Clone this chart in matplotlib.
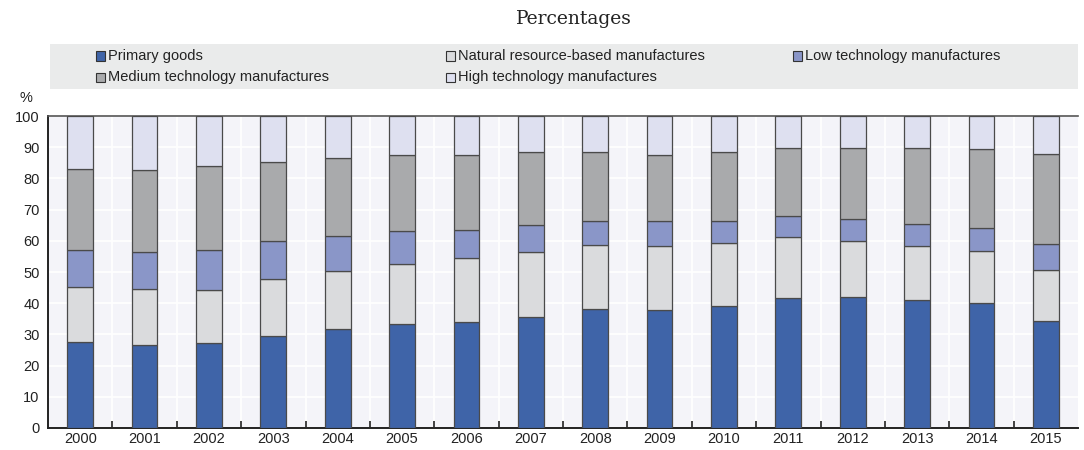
import numpy as np
import matplotlib.pyplot as plt
from matplotlib.patches import Rectangle

years = ['2000', '2001', '2002', '2003', '2004', '2005', '2006', '2007',
         '2008', '2009', '2010', '2011', '2012', '2013', '2014', '2015']

primary = [27.7, 26.7, 27.1, 29.5, 31.6, 33.3, 33.9, 35.5, 38.1, 37.8, 39.0, 41.6, 41.9, 40.9, 40.1, 34.3]
natural = [17.4, 17.8, 17.1, 18.2, 18.6, 19.3, 20.7, 21.0, 20.5, 20.7, 20.2, 19.6, 18.2, 17.6, 16.8, 16.3]
low_tech = [11.9, 12.0, 12.9, 12.1, 11.2, 10.5, 9.0, 8.6, 7.9, 7.9, 7.2, 6.8, 6.9, 6.9, 7.3, 8.4]
medium_tech = [26.0, 26.3, 26.9, 25.5, 25.2, 24.4, 24.0, 23.4, 22.1, 21.2, 22.0, 21.9, 22.8, 24.5, 25.4, 29.0]
high_tech = [17.0, 17.2, 16.0, 14.7, 13.4, 12.5, 12.4, 11.5, 11.4, 12.4, 11.6, 10.1, 10.2, 10.1, 10.4, 12.0]

series_names = ['Primary goods', 'Natural resource-based manufactures', 'Low technology manufactures',
                'Medium technology manufactures', 'High technology manufactures']
series = [primary, natural, low_tech, medium_tech, high_tech]
colors = ['#3F64A8', '#DADBDD', '#8A96C8', '#A9AAAC', '#DEE0F0']

plt.rcParams['font.family'] = ['Liberation Sans', 'DejaVu Sans']

fig = plt.figure(figsize=(10.84, 4.5), dpi=100)
ax = fig.add_axes([0.0443, 0.049, 0.9502, 0.693])
ax.set_facecolor('#F4F4F9')

x = np.arange(len(years))
bottom = np.zeros(len(years))
for vals, c, name in zip(series, colors, series_names):
    ax.bar(x, vals, width=0.4, bottom=bottom, color=c, edgecolor='#4a4a4a',
           linewidth=0.9, label=name, zorder=3)
    bottom += np.array(vals)

ax.set_xlim(-0.5, len(years) - 0.5)
ax.set_ylim(0, 100)
ax.set_yticks(np.arange(0, 101, 10))
ax.set_xticks(x)
ax.set_xticklabels(years)
ax.set_xticks(np.arange(0.5, len(years) - 1, 1), minor=True)
ax.tick_params(axis='x', which='major', length=0, labelsize=10.5, pad=3, colors='#222222')
ax.tick_params(axis='x', which='minor', length=5, direction='in', width=1.2, color='#222222')
ax.tick_params(axis='y', length=0, labelsize=10.5, pad=6, colors='#222222')
ax.grid(axis='y', color='white', linewidth=1.2, zorder=1)
ax.grid(axis='x', which='minor', color='white', linewidth=1.2, zorder=1)

for s in ['left', 'bottom']:
    ax.spines[s].set_color('#222222')
    ax.spines[s].set_linewidth(1.4)
ax.spines['top'].set_color('#555555')
ax.spines['top'].set_linewidth(1.2)
ax.spines['right'].set_visible(False)

fig.text(0.024, 0.783, '%', fontsize=10.5, color='#222222', ha='center', va='center')

fig.text(0.529, 0.958, 'Percentages', fontsize=13.5, family=['DejaVu Serif'],
         ha='center', va='center', color='#222222')

# legend box
fig.patches.append(Rectangle((50 / 1084, 1 - 89 / 450), 1028 / 1084, 45 / 450,
                             transform=fig.transFigure, facecolor='#EAEBEB',
                             edgecolor='none', zorder=0))
legend_pos = [(100, 56), (450, 56), (797, 56), (100, 77), (450, 77)]
for (px, py), c, name in zip(legend_pos, colors, series_names):
    fig.patches.append(Rectangle(((px - 4) / 1084, 1 - (py + 4.5) / 450), 9 / 1084, 9 / 450,
                                 transform=fig.transFigure, facecolor=c,
                                 edgecolor='#333333', linewidth=0.8, zorder=1))
    fig.text((px + 8) / 1084, 1 - py / 450, name, fontsize=10.5, ha='left', va='center',
             color='#222222', family=['Liberation Sans', 'DejaVu Sans'])

fig.savefig('out.png', dpi=100)
